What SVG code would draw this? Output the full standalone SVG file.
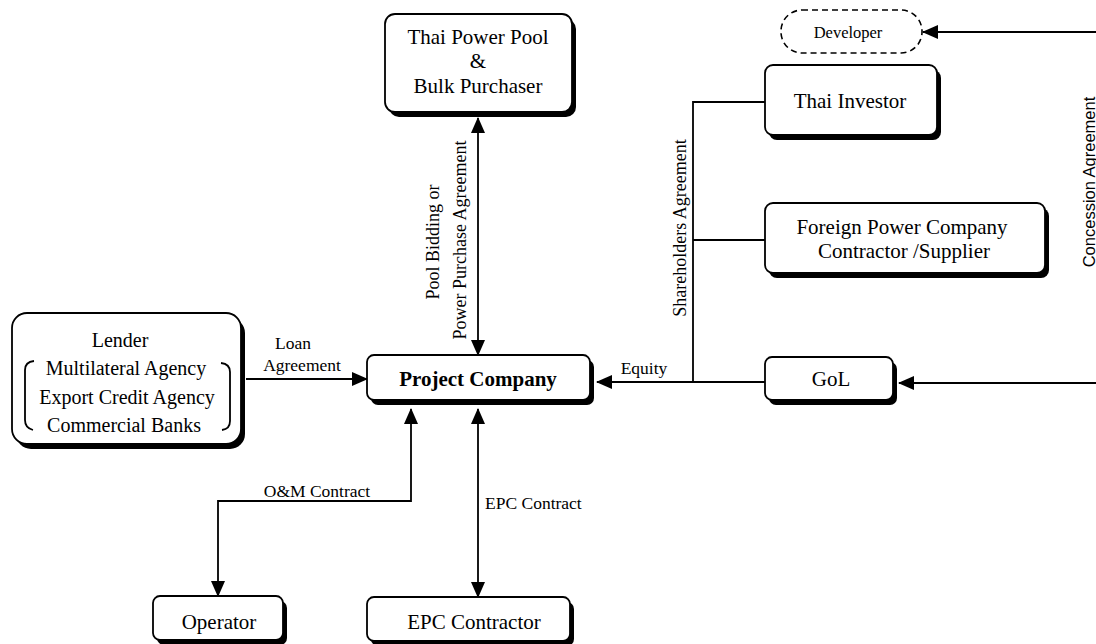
<svg xmlns="http://www.w3.org/2000/svg" width="1096" height="644" viewBox="0 0 1096 644">
<defs>
<marker id="arr" markerUnits="userSpaceOnUse" markerWidth="16" markerHeight="14" refX="15" refY="7" orient="auto-start-reverse" viewBox="0 0 16 14">
<path d="M0,0 L16,7 L0,14 z" fill="#000"/>
</marker>
<style>
.sh{fill:#000}
.bx{fill:#fff;stroke:#000;stroke-width:1.8}
.t{font-family:"Liberation Serif","Times New Roman",serif;font-size:21px;fill:#000;text-anchor:middle}
.lt{font-family:"Liberation Serif","Times New Roman",serif;font-size:20px;fill:#000;text-anchor:middle}
.l{font-family:"Liberation Serif","Times New Roman",serif;font-size:17.5px;fill:#000}
.r{font-family:"Liberation Serif","Times New Roman",serif;font-size:18px;fill:#000;text-anchor:middle}
.ln{fill:none;stroke:#000;stroke-width:1.8}
</style>
</defs>
<rect width="1096" height="644" fill="#fff"/>

<g id="connectors">
<line class="ln" x1="478" y1="118" x2="478" y2="355" marker-start="url(#arr)" marker-end="url(#arr)"/>
<line class="ln" x1="246" y1="379" x2="367" y2="379" marker-end="url(#arr)"/>
<line class="ln" x1="765" y1="382" x2="597" y2="382" marker-end="url(#arr)"/>
<polyline class="ln" points="765,102 693,102 693,382"/>
<line class="ln" x1="693" y1="240" x2="765" y2="240"/>
<polyline class="ln" points="218,596 218,501 411,501 411,409" marker-start="url(#arr)" marker-end="url(#arr)"/>
<line class="ln" x1="478" y1="409" x2="478" y2="597" marker-start="url(#arr)" marker-end="url(#arr)"/>
<line class="ln" x1="1096" y1="32" x2="923" y2="32" marker-end="url(#arr)"/>
<line class="ln" x1="1096" y1="383" x2="899" y2="383" marker-end="url(#arr)"/>
<text class="l" x="293" y="349" text-anchor="middle">Loan</text>
<text class="l" x="302" y="371" text-anchor="middle">Agreement</text>
<text class="l" x="644" y="374" text-anchor="middle">Equity</text>
<text class="l" x="317" y="497" text-anchor="middle">O&amp;M Contract</text>
<text class="l" x="485" y="509">EPC Contract</text>
<text class="r" transform="translate(439,242) rotate(-90)">Pool Bidding or</text>
<text class="r" transform="translate(466,240) rotate(-90)">Power Purchase Agreement</text>
<text class="r" transform="translate(686,228) rotate(-90)">Shareholders Agreement</text>
<text transform="translate(1095,182) rotate(-90)" text-anchor="middle" font-family="Liberation Sans, Arial, sans-serif" font-size="16.5">Concession Agreement</text>
</g>

<g id="thai-power-pool">
<rect class="sh" x="389" y="19" width="187" height="98" rx="10"/>
<rect class="bx" x="385" y="14" width="187" height="98" rx="10"/>
<text class="t" x="478" y="44">Thai Power Pool</text>
<text class="t" x="478" y="68">&amp;</text>
<text class="t" x="478" y="93">Bulk Purchaser</text>
</g>

<g id="developer">
<rect x="781" y="10" width="141" height="43" rx="21" fill="#fff" stroke="#000" stroke-width="1.6" stroke-dasharray="6,4"/>
<text class="t" x="848" y="38" style="font-size:16.5px">Developer</text>
</g>

<g id="thai-investor">
<rect class="sh" x="769" y="70" width="172" height="70" rx="8"/>
<rect class="bx" x="765" y="65" width="172" height="70" rx="8"/>
<text class="t" x="850" y="108">Thai Investor</text>
</g>

<g id="foreign-power-company">
<rect class="sh" x="769" y="208" width="280" height="70" rx="8"/>
<rect class="bx" x="765" y="203" width="280" height="70" rx="8"/>
<text class="t" x="902" y="234">Foreign Power Company</text>
<text class="t" x="904" y="258">Contractor /Supplier</text>
</g>

<g id="gol">
<rect class="sh" x="769" y="362" width="128" height="43" rx="7"/>
<rect class="bx" x="765" y="357" width="128" height="43" rx="7"/>
<text class="t" x="831" y="386">GoL</text>
</g>

<g id="project-company">
<rect class="sh" x="371" y="360" width="223" height="45" rx="7"/>
<rect class="bx" x="367" y="355" width="223" height="45" rx="7"/>
<text class="t" x="478" y="386" font-weight="bold">Project Company</text>
</g>

<g id="lender">
<rect class="sh" x="16" y="318" width="229" height="131" rx="15"/>
<rect class="bx" x="12" y="313" width="229" height="131" rx="15"/>
<text class="lt" x="120" y="347">Lender</text>
<text class="lt" x="126" y="375">Multilateral Agency</text>
<text class="lt" x="127" y="404">Export Credit Agency</text>
<text class="lt" x="124" y="432">Commercial Banks</text>
<path class="ln" d="M34,361 Q25,362 25,370 L25,420 Q25,428 33,430"/>
<path class="ln" d="M221,363 Q230,364 230,372 L230,421 Q230,429 222,430"/>
</g>

<g id="operator">
<rect class="sh" x="157" y="601" width="130" height="44" rx="7"/>
<rect class="bx" x="153" y="596" width="130" height="44" rx="7"/>
<text class="t" x="219" y="629">Operator</text>
</g>

<g id="epc-contractor">
<rect class="sh" x="371" y="602" width="203" height="44" rx="7"/>
<rect class="bx" x="367" y="597" width="203" height="44" rx="7"/>
<text class="t" x="474" y="629">EPC Contractor</text>
</g>
</svg>
